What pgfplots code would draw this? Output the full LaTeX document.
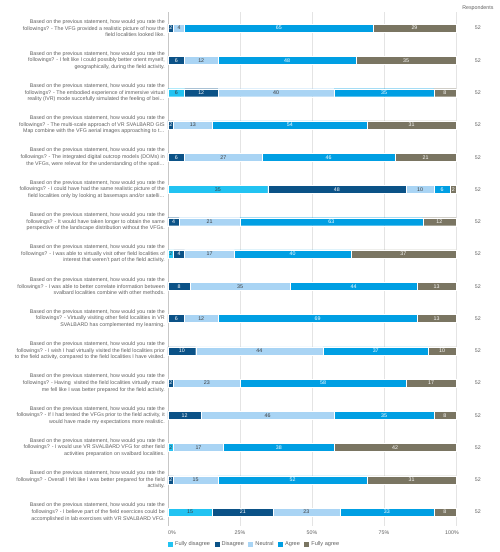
\documentclass[border=0pt]{standalone}
\usepackage{pgfplots}
\usepackage{pgfplotstable}
\pgfplotsset{compat=1.18}
\usepackage{fontspec}
\setmainfont{Liberation Sans}
\definecolor{cFD}{HTML}{22C3F2}
\definecolor{cD}{HTML}{0B5287}
\definecolor{cN}{HTML}{A9D4F4}
\definecolor{cA}{HTML}{009FE3}
\definecolor{cFA}{HTML}{7A7562}
\definecolor{txt}{HTML}{5F5F5F}
\definecolor{lbl}{HTML}{3A3A3A}
\definecolor{grd}{HTML}{E4E4E4}
\pgfplotstableread{
row fd d n a fa
1 0 1.92 3.85 65.38 28.85
2 0 5.77 11.54 48.08 34.62
3 5.77 11.54 40.38 34.62 7.69
4 0 1.92 13.46 53.85 30.77
5 0 5.77 26.92 46.15 21.15
6 34.62 48.08 9.62 5.77 1.92
7 0 3.85 21.15 63.46 11.54
8 1.92 3.85 17.31 40.38 36.54
9 0 7.69 34.62 44.23 13.46
10 0 5.77 11.54 69.23 13.46
11 0 9.62 44.23 36.54 9.62
12 0 1.92 23.08 57.69 17.31
13 0 11.54 46.15 34.62 7.69
14 1.92 0 17.31 38.46 42.31
15 0 1.92 15.38 51.92 30.77
16 15.38 21.15 23.08 32.69 7.69
}\datatable
\newcommand{\fs}{\fontsize{5.3}{6.6}\selectfont}
\pgfplotsset{
  seglabel/.style={only marks, mark=*, mark size=0pt, mark options={draw=none, fill=none},
    point meta={#1},
    nodes near coords={\pgfmathfloatifflags{\pgfplotspointmeta}{0}{}{\pgfmathprintnumber[fixed,precision=0,assume math mode=true]{\pgfplotspointmeta}}},
    every node near coord/.append style={font=\fs, anchor=center, inner sep=0pt}},
}
\begin{document}
\begin{tikzpicture}
\begin{axis}[
  at={(168pt,26pt)}, anchor=south west,
  scale only axis, width=288pt, height=514pt,
  xbar stacked, bar width=8pt,
  xmin=0, xmax=100, ymin=0.5, ymax=16.43, y dir=reverse,
  axis line style={draw=none},
  xtick={0,25,50,75,100},
  xticklabels={\hspace*{8pt}0\%,25\%,50\%,75\%,100\%\hspace*{8pt}},
  ytick={1,2,3,4,5,6,7,8,9,10,11,12,13,14,15,16},
  yticklabels={
    {Based on the previous statement, how would you rate the\\followings? - The VFG provided a realistic picture of how the\\field localities looked like.},
    {Based on the previous statement, how would you rate the\\followings? - I felt like I could possibly better orient myself,\\geographically, during the field activity.},
    {Based on the previous statement, how would you rate the\\followings? - The embodied experience of immersive virtual\\reality (IVR) mode succefully simulated the feeling of bei…},
    {Based on the previous statement, how would you rate the\\followings? - The multi-scale approach of VR SVALBARD GIS\\Map combine with the VFG aerial images approaching to t…},
    {Based on the previous statement, how would you rate the\\followings? - The integrated digital outcrop models (DOMs) in\\the VFGs, were relevat for the understanding of the spati…},
    {Based on the previous statement, how would you rate the\\followings? - I could have had the same realistic picture of the\\field localities only by looking at basemaps and/or satelli…},
    {Based on the previous statement, how would you rate the\\followings? - It would have taken longer to obtain the same\\perspective of the landscape distribution without the VFGs.},
    {Based on the previous statement, how would you rate the\\followings? - I was able to virtually visit other field localities of\\interest that weren't part of the field activity.},
    {Based on the previous statement, how would you rate the\\followings? - I was able to better correlate information between\\svalbard localities combine with other methods.},
    {Based on the previous statement, how would you rate the\\followings? - Virtually visiting other field localities in VR\\SVALBARD has complemented my learning.},
    {Based on the previous statement, how would you rate the\\followings? - I wish I had virtually visited the field localities prior\\to the field activity, compared to the field localities I have visited.},
    {Based on the previous statement, how would you rate the\\followings? - Having~ visited the field localities virtually made\\me fell like I was better prepared for the field activity.},
    {Based on the previous statement, how would you rate the\\followings? - If I had tested the VFGs prior to the field activity, it\\would have made my expectations more realistic.},
    {Based on the previous statement, how would you rate the\\followings? - I would use VR SVALBARD VFG for other field\\activities preparation on svalbard localities.},
    {Based on the previous statement, how would you rate the\\followings? - Overall I felt like I was better prepared for the field\\activity.},
    {Based on the previous statement, how would you rate the\\followings? - I believe part of the field exercices could be\\accomplished in lab exercises with VR SVALBARD VFG.}
  },
  major tick length=0pt,
  xmajorgrids, major grid style={grd, line width=0.7pt},
  tick label style={font=\fs, text=txt},
  yticklabel style={align=right, inner sep=0pt, xshift=-3pt},
  xticklabel style={inner sep=0pt, yshift=-4.5pt},
  clip=false,
  legend style={at={(0,0)}, anchor=north west, yshift=-13.5pt, draw=none, fill=none,
    inner sep=0pt, font=\fontsize{5.6}{6.6}\selectfont, text=txt,
    /tikz/every even column/.append style={column sep=2.5pt}},
  legend columns=-1,
  legend image code/.code={\path[#1,draw=none] (0pt,-2.6pt) rectangle (5pt,2.6pt);},
]
\addplot[fill=cFD, draw=white, line width=0.3pt] table[x=fd, y=row] {\datatable};
\addplot[fill=cD, draw=white, line width=0.3pt] table[x=d, y=row] {\datatable};
\addplot[fill=cN, draw=white, line width=0.3pt] table[x=n, y=row] {\datatable};
\addplot[fill=cA, draw=white, line width=0.3pt] table[x=a, y=row] {\datatable};
\addplot[fill=cFA, draw=white, line width=0.3pt] table[x=fa, y=row] {\datatable};
\legend{Fully disagree, Disagree, Neutral, Agree, Fully agree}
\node[font=\fs, text=txt] at (axis cs:107.6,0.376) {Respondents};
\pgfplotsinvokeforeach{1,2,3,4,5,6,7,8,9,10,11,12,13,14,15,16}{\node[font=\fs, text=txt] at (axis cs:107.6,#1) {52};}
\draw[black!22, line width=0.8pt] (axis cs:0,0.5) -- (axis cs:0,16.43);
\end{axis}
\begin{axis}[
  at={(168pt,26pt)}, anchor=south west,
  scale only axis, width=288pt, height=514pt,
  xmin=0, xmax=100, ymin=0.5, ymax=16.43, y dir=reverse,
  hide axis, clip=false,
]
\addplot[seglabel=\thisrow{fd}, every node near coord/.append style={text=lbl}]
  table[x expr=\thisrow{fd}/2, y=row] {\datatable};
\addplot[seglabel=\thisrow{d}, every node near coord/.append style={text=white}]
  table[x expr=\thisrow{fd}+\thisrow{d}/2, y=row] {\datatable};
\addplot[seglabel=\thisrow{n}, every node near coord/.append style={text=lbl}]
  table[x expr=\thisrow{fd}+\thisrow{d}+\thisrow{n}/2, y=row] {\datatable};
\addplot[seglabel=\thisrow{a}, every node near coord/.append style={text=white}]
  table[x expr=\thisrow{fd}+\thisrow{d}+\thisrow{n}+\thisrow{a}/2, y=row] {\datatable};
\addplot[seglabel=\thisrow{fa}, every node near coord/.append style={text=white}]
  table[x expr=\thisrow{fd}+\thisrow{d}+\thisrow{n}+\thisrow{a}+\thisrow{fa}/2, y=row] {\datatable};
\end{axis}
\pgfresetboundingbox
\path[use as bounding box] (0,0) rectangle (500pt,552pt);
\end{tikzpicture}
\end{document}
